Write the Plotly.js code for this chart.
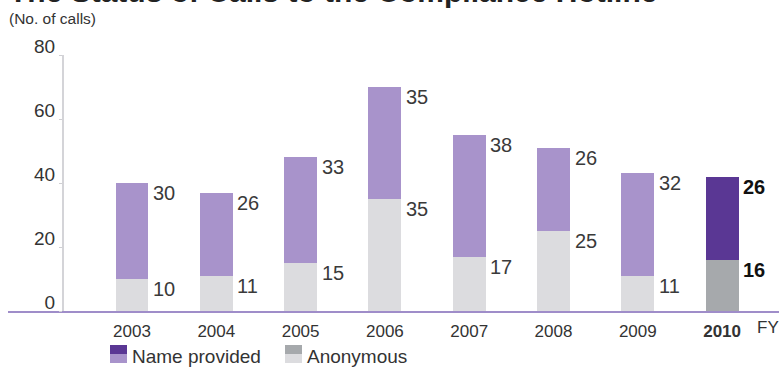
<!DOCTYPE html>
<html>
<head>
<meta charset="utf-8">
<script src="https://cdn.plot.ly/plotly-3.0.1.min.js"></script>
<style>
  html, body { margin: 0; padding: 0; background: #fff; }
  #chart { width: 779px; height: 369px; }
</style>
</head>
<body>
<div id="chart"></div>
<script>
// Calls to the compliance hotline by fiscal year
const years = ['2003', '2004', '2005', '2006', '2007', '2008', '2009', '2010'];
const anonymous = [10, 11, 15, 35, 17, 25, 11, 16];
const nameProvided = [30, 26, 33, 35, 38, 26, 32, 26];
const yTicks = [0, 20, 40, 60, 80];
const highlightYear = '2010';

const W = 779, H = 369;
const M = { l: 8, r: 0, t: 55, b: 58 };
const plotW = W - M.l - M.r, plotH = H - M.t - M.b;
// pixel helpers for decorations placed around the plot area
const px = x => (x - M.l) / plotW;
const py = y => (H - M.b - y) / plotH;

const NARROW = '"Liberation Sans Narrow", "Arial Narrow", "Liberation Sans", Arial, sans-serif';
const SANS = '"Liberation Sans", Arial, Helvetica, sans-serif';

const C = {
  named: '#a893cb', namedHi: '#5a3794',
  anon: '#dcdcdf', anonHi: '#a6a9ac',
  axis: '#9f8dc9', text: '#3a3a3a'
};

const isHi = years.map(y => y === highlightYear);

const traces = [
  {
    type: 'bar', name: 'Anonymous', x: years, y: anonymous, width: 0.39,
    marker: { color: isHi.map(h => h ? C.anonHi : C.anon), line: { width: 0 } },
    hoverinfo: 'x+y+name'
  },
  {
    type: 'bar', name: 'Name provided', x: years, y: nameProvided, width: 0.39,
    marker: { color: isHi.map(h => h ? C.namedHi : C.named), line: { width: 0 } },
    hoverinfo: 'x+y+name'
  }
];

const annotations = [];
// value labels beside each segment, aligned to the segment top
years.forEach((yr, i) => {
  const hi = isHi[i];
  const style = { family: NARROW, size: 20, color: hi ? '#111' : C.text };
  const segments = [
    { top: anonymous[i], value: anonymous[i] },
    { top: anonymous[i] + nameProvided[i], value: nameProvided[i] }
  ];
  segments.forEach(seg => {
    annotations.push({
      x: i, y: seg.top, xref: 'x', yref: 'y',
      text: hi ? '<b>' + seg.value + '</b>' : String(seg.value),
      showarrow: false, xanchor: 'left', yanchor: 'top',
      xshift: 19, yshift: 3, font: style
    });
  });
});

// title (partly above the canvas), unit label, and FY marker
annotations.push({
  x: px(7), y: py(10), xref: 'paper', yref: 'paper', xanchor: 'left', yanchor: 'bottom',
  text: '<b>The Status of Calls to the Compliance Hotline</b>', showarrow: false,
  font: { family: SANS, size: 30, color: '#222' }
});
annotations.push({
  x: px(7), y: py(18), xref: 'paper', yref: 'paper', xanchor: 'left', yanchor: 'middle',
  text: '(No. of calls)', showarrow: false,
  font: { family: NARROW, size: 15.5, color: '#333' }
});
annotations.push({
  x: px(755), y: py(327), xref: 'paper', yref: 'paper', xanchor: 'left', yanchor: 'middle',
  text: 'FY', showarrow: false,
  font: { family: NARROW, size: 17, color: '#333' }
});

// legend with two-tone swatches
const legendItems = [
  { label: 'Name provided', x: 110, dark: C.namedHi, light: C.named },
  { label: 'Anonymous', x: 285, dark: C.anonHi, light: C.anon }
];
const shapes = [];
legendItems.forEach(it => {
  shapes.push({ type: 'rect', xref: 'paper', yref: 'paper', line: { width: 0 },
    x0: px(it.x), x1: px(it.x + 17), y0: py(354), y1: py(345), fillcolor: it.dark });
  shapes.push({ type: 'rect', xref: 'paper', yref: 'paper', line: { width: 0 },
    x0: px(it.x), x1: px(it.x + 17), y0: py(363), y1: py(354), fillcolor: it.light });
  annotations.push({
    x: px(it.x + 20), y: py(356), xref: 'paper', yref: 'paper', xanchor: 'left', yanchor: 'middle',
    text: it.label, showarrow: false, font: { family: SANS, size: 19, color: '#333' }
  });
});

const layout = {
  width: W, height: H, margin: M,
  paper_bgcolor: '#fff', plot_bgcolor: 'rgba(0,0,0,0)',
  barmode: 'stack', showlegend: false,
  xaxis: {
    type: 'category', range: [-1.471, 7.675], fixedrange: true,
    showgrid: false, zeroline: false,
    showline: true, linecolor: C.axis, linewidth: 2,
    ticks: '', tickvals: years,
    ticktext: years.map(y => y === highlightYear ? '<b>' + y + '</b>' : y),
    tickfont: { family: NARROW, size: 17, color: '#333' },
    ticklabelstandoff: 4
  },
  yaxis: {
    range: [0, 80], fixedrange: true, anchor: 'free', position: px(62),
    showgrid: false, zeroline: false,
    showline: true, linecolor: '#d4d4d8', linewidth: 1.5,
    ticks: 'outside', ticklen: 3, tickcolor: '#cfcfd3', tickwidth: 1,
    tickvals: yTicks,
    tickfont: { family: NARROW, size: 19, color: '#333' },
    ticklabelshift: -9, ticklabelstandoff: 0
  },
  annotations, shapes
};

Plotly.newPlot('chart', traces, layout, { displayModeBar: false, staticPlot: true });
</script>
</body>
</html>
